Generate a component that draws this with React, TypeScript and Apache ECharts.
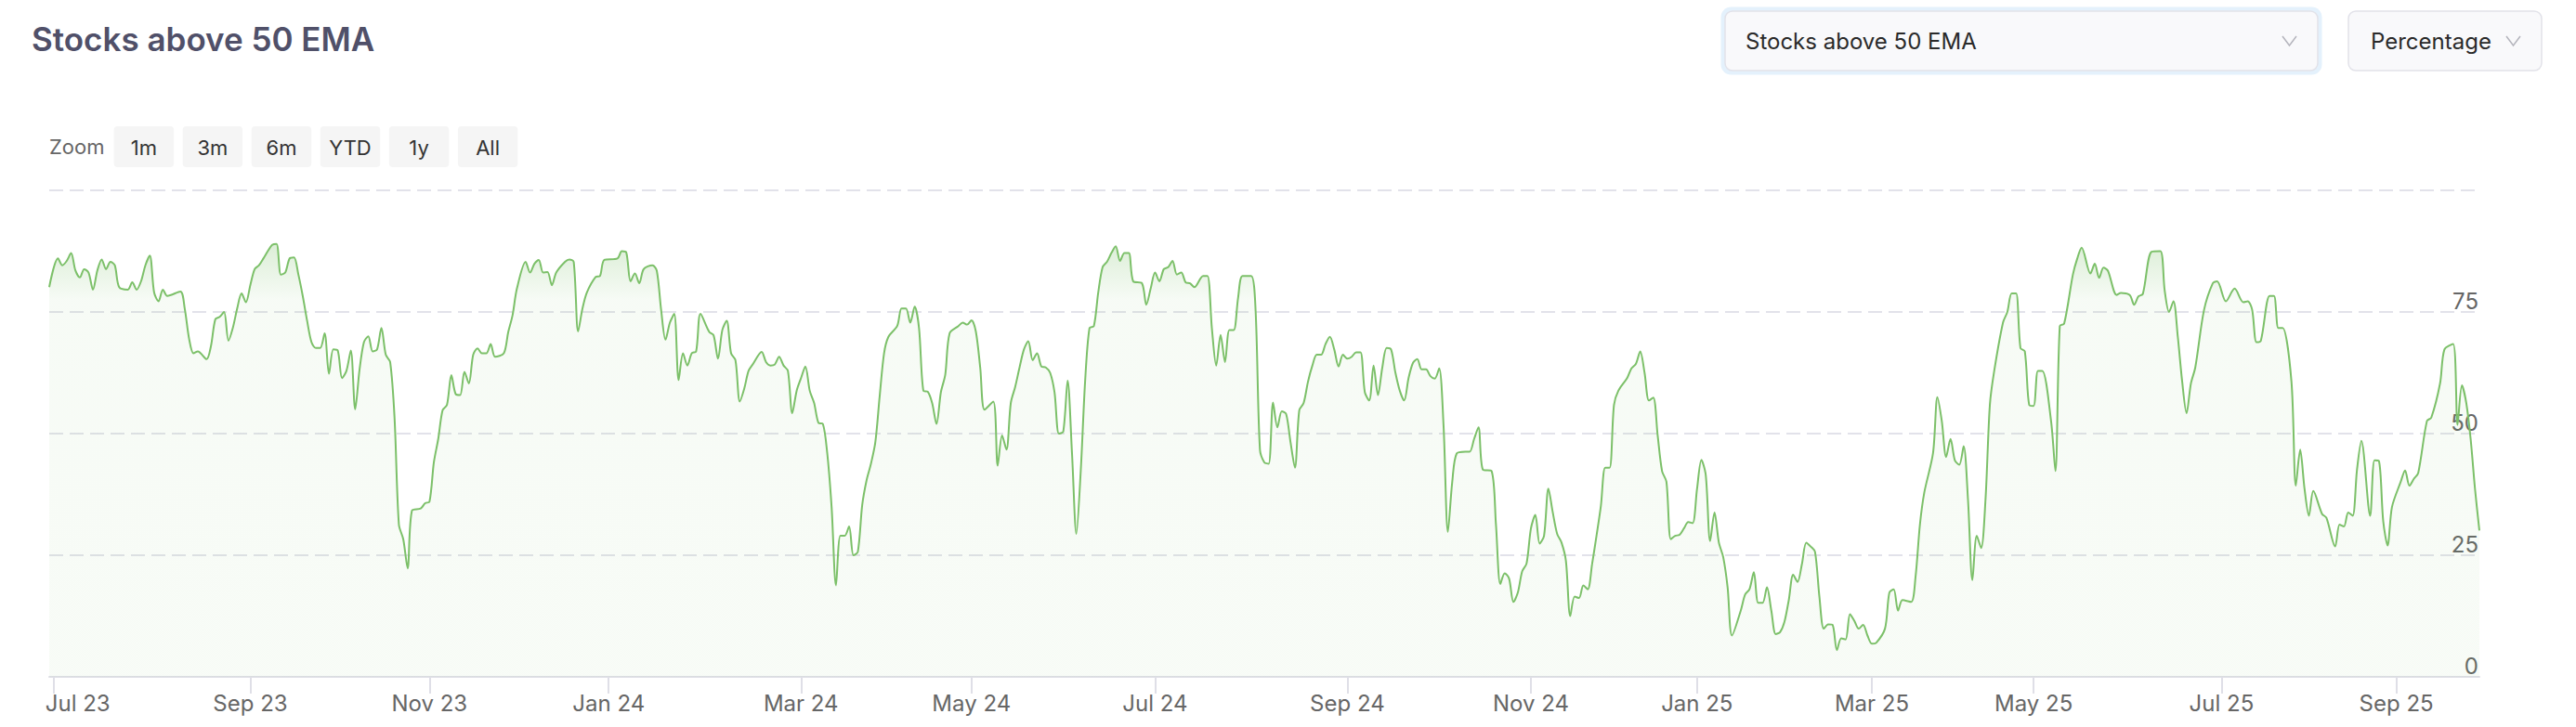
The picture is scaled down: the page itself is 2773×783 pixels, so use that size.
import React, { useEffect, useRef } from 'react';
import * as echarts from 'echarts';

// Trading-session index (0 = first session shown, 556 = last) and % of stocks above their 50 EMA
const sessionIndex = [
  0, 2, 3, 4, 5, 6, 7, 8, 9, 10, 11, 12, 13, 14, 15, 16, 18, 19, 20, 21, 22, 23, 24, 25, 26, 27, 30, 31, 32, 33, 34, 36, 37, 38, 39, 40,
  41, 42, 43, 44, 45, 46, 47, 48, 49, 50, 51, 52, 53, 54, 55, 56, 57, 58, 59, 60, 61, 62, 63, 64, 65, 66, 67, 68, 69, 70, 71, 72, 73, 74,
  75, 76, 77, 78, 79, 80, 81, 82, 83, 85, 86, 87, 88, 89, 90, 91, 92, 93, 94, 95, 96, 97, 98, 99, 100, 101, 102, 104, 105, 106, 107, 109,
  110, 111, 112, 113, 114, 115, 116, 118, 119, 120, 121, 122, 123, 125, 126, 127, 130, 131, 132, 133, 134, 135, 136, 138, 139, 140, 141,
  142, 143, 144, 145, 146, 147, 148, 149, 151, 152, 153, 154, 155, 156, 157, 158, 159, 160, 161, 163, 164, 165, 166, 167, 168, 169, 170,
  171, 172, 173, 174, 175, 176, 177, 178, 179, 180, 181, 182, 183, 184, 185, 186, 187, 188, 189, 190, 191, 192, 194, 195, 196, 197, 198,
  199, 200, 201, 202, 203, 204, 205, 206, 208, 209, 210, 211, 212, 213, 214, 216, 217, 218, 219, 220, 221, 222, 223, 224, 225, 226, 227,
  228, 229, 230, 231, 232, 233, 234, 235, 236, 237, 238, 239, 240, 241, 242, 243, 244, 245, 246, 247, 248, 250, 251, 252, 253, 254, 255,
  256, 257, 258, 259, 260, 261, 262, 264, 265, 266, 267, 268, 269, 270, 271, 272, 273, 275, 276, 277, 278, 279, 280, 281, 282, 283, 284,
  285, 286, 287, 288, 289, 290, 291, 292, 293, 294, 295, 296, 297, 298, 299, 300, 301, 302, 303, 304, 305, 306, 307, 308, 309, 310, 311,
  312, 313, 314, 315, 316, 317, 318, 319, 320, 321, 322, 324, 325, 326, 327, 328, 330, 331, 332, 333, 334, 335, 336, 337, 338, 339, 340,
  341, 342, 343, 344, 345, 346, 347, 348, 349, 350, 351, 352, 353, 354, 355, 356, 357, 358, 359, 361, 362, 363, 364, 365, 366, 367, 368,
  369, 370, 371, 372, 373, 374, 375, 376, 377, 378, 379, 380, 381, 382, 383, 384, 385, 387, 388, 389, 390, 391, 392, 393, 394, 395, 396,
  397, 398, 399, 400, 401, 402, 403, 404, 405, 406, 407, 408, 409, 410, 411, 412, 413, 414, 415, 416, 417, 418, 420, 421, 422, 423, 424,
  426, 427, 428, 429, 431, 432, 433, 434, 435, 436, 437, 438, 439, 440, 441, 442, 443, 444, 445, 447, 448, 449, 450, 451, 452, 453, 454,
  455, 456, 458, 459, 460, 461, 463, 464, 465, 467, 468, 469, 470, 471, 473, 474, 476, 477, 478, 479, 481, 483, 484, 485, 486, 487, 488,
  489, 490, 491, 493, 495, 496, 498, 500, 502, 503, 504, 505, 506, 508, 509, 510, 511, 513, 514, 515, 516, 517, 518, 520, 521, 523, 524,
  525, 526, 527, 528, 529, 531, 532, 533, 534, 535, 536, 538, 539, 540, 541, 542, 544, 545, 547, 548, 550, 551, 552, 553, 554, 555, 556,
];

const pctAbove50Ema = [
  80.1, 86.0, 84.6, 85.5, 87.1, 83.5, 82.1, 83.8, 83.1, 79.6, 83.5, 85.8, 83.8, 85.3, 84.6, 80.1, 79.6, 81.1, 79.6, 81.3, 84.6, 86.6, 79.0,
  77.2, 79.6, 78.3, 79.2, 75.7, 69.5, 66.5, 66.9, 65.3, 68.0, 73.5, 74.0, 75.0, 69.1, 71.7, 75.7, 78.8, 77.0, 80.5, 83.8, 84.6, 86.0, 87.5,
  88.8, 89.0, 82.7, 83.1, 86.0, 86.2, 82.7, 78.3, 73.2, 68.8, 67.6, 67.6, 70.6, 62.3, 67.3, 67.1, 61.4, 62.9, 67.1, 55.0, 63.2, 68.8, 70.0,
  66.9, 67.3, 71.7, 66.2, 64.7, 53.3, 31.3, 28.3, 22.3, 34.2, 34.6, 35.7, 36.0, 44.1, 48.9, 54.8, 55.9, 62.0, 58.1, 57.9, 62.7, 60.3, 66.2,
  67.5, 66.5, 66.5, 68.4, 65.8, 66.5, 70.8, 74.3, 79.8, 85.3, 83.1, 84.9, 85.7, 83.1, 83.2, 80.5, 83.1, 85.3, 85.8, 85.3, 71.0, 75.7, 79.0,
  82.2, 82.4, 85.7, 86.0, 87.5, 87.3, 81.3, 82.9, 80.9, 83.8, 84.6, 83.5, 75.4, 69.3, 72.8, 74.6, 61.0, 66.5, 64.0, 66.5, 66.9, 74.6, 70.9,
  70.2, 65.4, 71.3, 73.2, 66.5, 65.1, 56.6, 59.2, 62.9, 64.3, 66.8, 64.7, 64.0, 64.2, 65.8, 64.0, 62.9, 54.2, 58.8, 61.4, 63.8, 58.8, 56.3,
  52.2, 52.0, 46.0, 34.9, 18.8, 29.0, 29.0, 30.9, 25.0, 25.7, 35.3, 40.4, 43.8, 48.2, 57.7, 66.5, 69.9, 72.1, 75.7, 75.7, 72.8, 76.1, 71.7,
  58.8, 58.6, 56.3, 52.0, 58.5, 62.1, 70.6, 72.1, 72.8, 72.4, 73.3, 71.0, 63.6, 54.9, 56.6, 43.4, 49.6, 46.7, 56.3, 59.6, 63.6, 67.3, 69.0,
  65.1, 66.5, 63.8, 63.6, 62.5, 58.5, 50.0, 50.4, 60.9, 46.0, 29.4, 42.3, 60.7, 71.7, 72.1, 79.0, 84.2, 85.3, 87.1, 88.5, 85.5, 87.1, 87.1,
  81.3, 80.9, 76.5, 79.8, 83.1, 81.3, 83.8, 84.2, 85.5, 82.7, 83.1, 81.1, 80.9, 80.1, 82.4, 82.4, 71.7, 64.0, 70.3, 64.7, 71.3, 71.3, 77.9,
  82.4, 82.4, 75.4, 46.7, 44.1, 43.8, 56.4, 51.3, 54.6, 54.0, 48.2, 43.0, 54.8, 56.3, 60.7, 64.0, 66.2, 66.2, 68.4, 69.9, 67.3, 63.8, 66.2,
  65.4, 65.8, 66.7, 66.7, 58.5, 56.8, 64.0, 57.9, 63.6, 67.6, 67.3, 62.5, 58.8, 56.8, 61.4, 64.5, 65.3, 63.2, 63.2, 61.8, 61.3, 63.4, 51.8,
  29.8, 40.1, 45.9, 46.3, 46.3, 48.9, 51.3, 42.6, 42.3, 31.3, 19.1, 21.3, 20.2, 15.4, 17.3, 21.7, 23.3, 30.5, 33.3, 27.4, 29.0, 38.7, 33.8,
  29.4, 27.6, 23.9, 12.5, 16.5, 16.2, 18.8, 18.0, 23.2, 29.0, 35.1, 43.0, 43.0, 55.9, 58.8, 61.4, 63.4, 64.3, 66.9, 62.5, 56.8, 57.4, 49.6,
  42.3, 40.1, 28.3, 29.0, 29.2, 30.5, 31.8, 31.6, 38.6, 44.6, 41.5, 27.9, 33.8, 27.6, 24.6, 18.4, 8.5, 13.6, 16.9, 18.0, 21.5, 15.2, 15.2,
  18.4, 13.6, 8.8, 9.2, 11.3, 15.8, 21.0, 19.5, 23.2, 27.6, 26.8, 25.7, 16.5, 9.9, 10.8, 10.7, 5.5, 7.9, 7.7, 12.9, 11.5, 9.9, 10.7, 8.5,
  6.8, 7.0, 9.9, 17.3, 18.0, 13.6, 15.8, 15.4, 20.6, 31.3, 37.9, 46.0, 57.5, 52.6, 45.2, 48.9, 44.5, 43.6, 47.4, 36.4, 19.9, 29.0, 26.5,
  36.4, 55.9, 62.9, 72.8, 75.0, 78.8, 78.8, 67.6, 66.9, 55.9, 55.7, 62.9, 62.9, 52.6, 42.3, 72.1, 72.6, 82.7, 86.0, 88.2, 82.9, 84.9, 82.0,
  84.1, 83.5, 78.5, 78.9, 78.5, 76.5, 78.2, 78.7, 87.4, 87.5, 79.4, 75.0, 77.2, 69.9, 60.7, 54.2, 60.3, 63.6, 75.4, 80.9, 81.3, 77.2, 79.8,
  77.0, 77.2, 75.5, 68.8, 69.1, 78.3, 78.3, 71.7, 71.7, 60.7, 39.3, 46.7, 38.6, 33.1, 38.2, 33.5, 32.7, 26.8, 31.3, 30.9, 33.8, 33.1, 42.6,
  48.5, 33.1, 44.5, 44.4, 32.0, 27.0, 34.9, 40.1, 42.4, 39.3, 40.7, 41.9, 52.6, 53.3, 60.3, 67.3, 68.4, 51.8, 59.9, 56.3, 48.9, 38.6, 30.1,
];

const lastSession = 556;
const monthTickSessions = [1, 46, 87, 128, 172, 211, 253, 297, 339, 377, 417, 454, 497, 537];
const monthTickLabels = [
  'Jul 23', 'Sep 23', 'Nov 23', 'Jan 24', 'Mar 24', 'May 24', 'Jul 24',
  'Sep 24', 'Nov 24', 'Jan 25', 'Mar 25', 'May 25', 'Jul 25', 'Sep 25',
];
const yTickLabels = ['0', '25', '50', '75'];
const zoomButtons = ['1m', '3m', '6m', 'YTD', '1y', 'All'];
const titleText = 'Stocks above 50 EMA';
const metricOption = 'Stocks above 50 EMA';
const unitOption = 'Percentage';

const FONT = 'Inter, "Noto Sans", sans-serif';

export default function App() {
  const ref = useRef<HTMLDivElement>(null);

  useEffect(() => {
    if (!ref.current) return;
    const chart = echarts.init(ref.current, null, { renderer: 'svg' });
    const data = sessionIndex.map((s, i) => [s, pctAbove50Ema[i]]);
    const labelMap = new Map<number, string>();
    monthTickSessions.forEach((s, i) => labelMap.set(s, monthTickLabels[i]));

    const graphics: any[] = [];
    graphics.push({
      type: 'text', x: 34, y: 42, silent: true,
      style: { text: titleText, fontSize: 35, fontWeight: 600, fontFamily: FONT, fill: '#505069', verticalAlign: 'middle' },
    });
    graphics.push({
      type: 'text', x: 53, y: 158, silent: true,
      style: { text: 'Zoom', fontSize: 22, fontFamily: FONT, fill: '#666666', verticalAlign: 'middle' },
    });
    zoomButtons.forEach((b, i) => {
      const x = 122.6 + i * 74.05;
      graphics.push({
        type: 'rect', silent: true,
        shape: { x, y: 136, width: 64.5, height: 44, r: 4 },
        style: { fill: '#f5f5f5' },
      });
      graphics.push({
        type: 'text', x: x + 32.25, y: 158.5, silent: true,
        style: { text: b, fontSize: 22, fontFamily: FONT, fill: '#333333', align: 'center', verticalAlign: 'middle' },
      });
    });
    // dropdown 1 (focused)
    graphics.push({
      type: 'rect', silent: true,
      shape: { x: 1852.5, y: 7.5, width: 647, height: 73, r: 11 },
      style: { fill: '#e4f1fc' },
    });
    graphics.push({
      type: 'rect', silent: true,
      shape: { x: 1857, y: 12, width: 638, height: 64, r: 8 },
      style: { fill: '#f9f9fb', stroke: '#e2e2e9', lineWidth: 1.5 },
    });
    graphics.push({
      type: 'text', x: 1879, y: 44, silent: true,
      style: { text: metricOption, fontSize: 24, fontFamily: FONT, fill: '#2a2a2a', verticalAlign: 'middle' },
    });
    graphics.push({
      type: 'polyline', silent: true,
      shape: { points: [[2457, 39], [2464.5, 49], [2472, 39]] },
      style: { stroke: '#b4b4bc', lineWidth: 1.5, fill: 'none' },
    });
    // dropdown 2
    graphics.push({
      type: 'rect', silent: true,
      shape: { x: 2528, y: 12, width: 208, height: 64, r: 8 },
      style: { fill: '#f9f9fb', stroke: '#e2e2e9', lineWidth: 1.5 },
    });
    graphics.push({
      type: 'text', x: 2552, y: 44, silent: true,
      style: { text: unitOption, fontSize: 24, fontFamily: FONT, fill: '#2a2a2a', verticalAlign: 'middle' },
    });
    graphics.push({
      type: 'polyline', silent: true,
      shape: { points: [[2698, 39], [2705.5, 49], [2713, 39]] },
      style: { stroke: '#b4b4bc', lineWidth: 1.5, fill: 'none' },
    });

    chart.setOption({
      animation: false,
      textStyle: { fontFamily: FONT },
      grid: { left: 53, right: 104, top: 205, bottom: 54, containLabel: false },
      xAxis: {
        type: 'value',
        min: 0,
        max: lastSession,
        axisLine: { show: true, lineStyle: { color: '#dfdfe7', width: 2 } },
        axisTick: { show: true, customValues: monthTickSessions, length: 18, lineStyle: { color: '#dfdfe7', width: 2 } },
        axisLabel: {
          customValues: monthTickSessions,
          fontSize: 24,
          color: '#666666',
          fontFamily: FONT,
          margin: 16,
          formatter: (v: number) => {
            const l = labelMap.get(v) || '';
            return v === monthTickSessions[0] ? `{first|${l}}` : l;
          },
          rich: { first: { padding: [0, 0, 0, 52], fontSize: 24, color: '#666666', fontFamily: FONT } },
        },
        splitLine: { show: false },
      },
      yAxis: {
        type: 'value',
        min: 0,
        max: 100,
        interval: 25,
        position: 'right',
        axisLine: { show: false },
        axisTick: { show: false },
        splitLine: { show: true, lineStyle: { color: '#e2e2ea', width: 2, type: [15, 7] } },
        axisLabel: {
          inside: true,
          margin: 1,
          verticalAlign: 'bottom',
          fontSize: 24,
          color: '#666666',
          fontFamily: FONT,
          formatter: (v: number) => (yTickLabels.indexOf(String(v)) >= 0 ? String(v) : ''),
        },
      },
      series: [
        {
          type: 'line',
          data,
          smooth: 0.3,
          symbol: 'none',
          z: 3,
          lineStyle: { color: '#7cc069', width: 2 },
          areaStyle: {
            color: new echarts.graphic.LinearGradient(0, 0, 0, 1, [
              { offset: 0, color: 'rgba(124,192,105,0.38)' },
              { offset: 0.13, color: 'rgba(124,192,105,0.09)' },
              { offset: 1, color: 'rgba(124,192,105,0.08)' },
            ]),
          },
        },
      ],
      graphic: graphics,
    });

    return () => chart.dispose();
  }, []);

  return <div ref={ref} style={{ position: 'absolute', left: 0, top: 0, width: 2773, height: 783, background: '#ffffff' }} />;
}
